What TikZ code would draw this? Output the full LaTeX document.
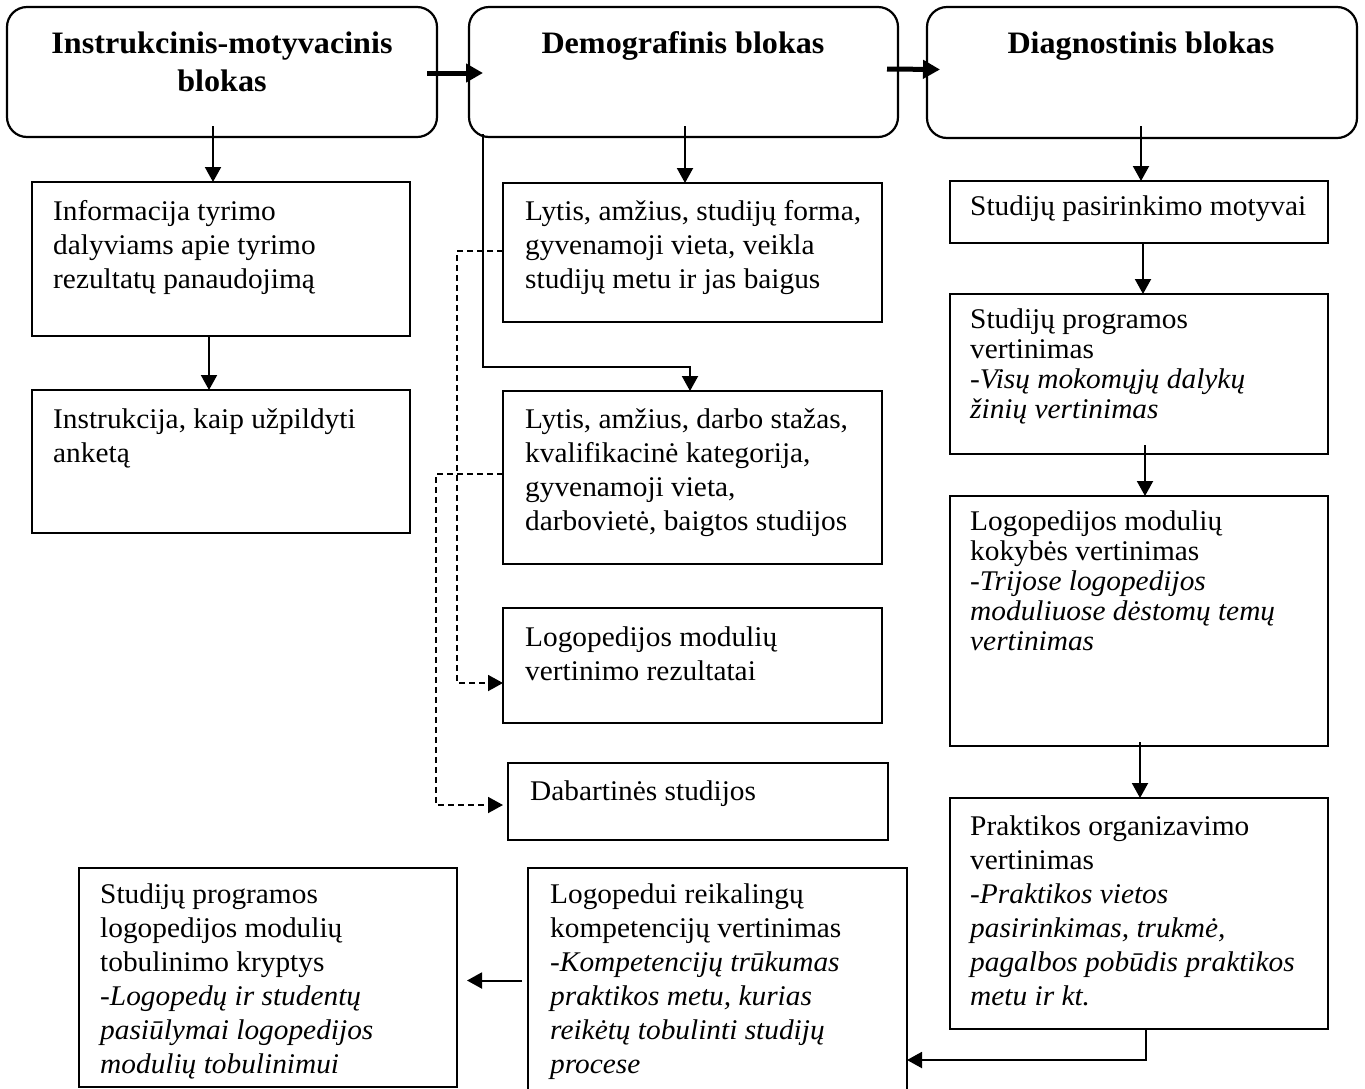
\documentclass[tikz,border=0pt]{standalone}
\usepackage{fontspec}
\setmainfont[FakeStretch=1.03]{Liberation Serif}
\usetikzlibrary{arrows.meta,calc}
\begin{document}
\begin{tikzpicture}[x=1pt,y=-1pt,
  box/.style={draw, line width=2.2pt, anchor=north west, inner sep=0pt, outer sep=0pt},
  rbox/.style={box, rounded corners=20pt},
  body/.style={anchor=north west, inner sep=0pt, align=left, font=\fontsize{28.5}{34}\selectfont},
  bodyt/.style={body, font=\fontsize{28.5}{30}\selectfont},
  title/.style={anchor=north, inner sep=0pt, align=center, font=\fontsize{31.2}{38}\selectfont\bfseries},
  arr/.style={line width=2pt, -{Triangle[length=15pt,width=16pt]}},
  thickarr/.style={line width=5pt, -{Triangle[length=17pt,width=18pt]}},
  dasharr/.style={line width=1.8pt, dash pattern=on 6pt off 4pt, -{Triangle[length=15pt,width=16pt]}}
]
\useasboundingbox (0,0) rectangle (1365,1088);
\clip (0,0) rectangle (1365,1088);

% top rounded boxes
\node[rbox, minimum width=430pt, minimum height=130pt] (b1) at (7,7) {};
\node[rbox, minimum width=429pt, minimum height=130pt] (b2) at (469,7) {};
\node[rbox, minimum width=430pt, minimum height=131pt] (b3) at (927,7) {};
\node[title] (t1) at (222,26.4) {\strut Instrukcinis-motyvacinis\\blokas};
\node[title] (t2) at (683,26.4) {\strut Demografinis blokas};
\node[title] (t3) at (1141,26.4) {\strut Diagnostinis blokas};

% left column
\node[box, minimum width=378pt, minimum height=154pt] (info) at (32,182) {};
\node[box, minimum width=378pt, minimum height=143pt] (instr) at (32,390) {};
\node[body] (tinfo) at (53,196.2) {\strut Informacija tyrimo\\dalyviams apie tyrimo\\rezultatų panaudojimą};
\node[body] (tinstr) at (53,404.2) {\strut Instrukcija, kaip užpildyti\\anketą};

% middle column
\node[box, minimum width=379pt, minimum height=139pt] (d1) at (503,183) {};
\node[box, minimum width=379pt, minimum height=173pt] (d2) at (503,391) {};
\node[box, minimum width=379pt, minimum height=115pt] (d3) at (503,608) {};
\node[box, minimum width=380pt, minimum height=77pt] (d4) at (508,763) {};
\node[body] (td1) at (525,196.2) {\strut Lytis, amžius, studijų forma,\\gyvenamoji vieta, veikla\\studijų metu ir jas baigus};
\node[body] (td2) at (525,404.2) {\strut Lytis, amžius, darbo stažas,\\kvalifikacinė kategorija,\\gyvenamoji vieta,\\darbovietė, baigtos studijos};
\node[body] (td3) at (525,622.2) {\strut Logopedijos modulių\\vertinimo rezultatai};
\node[body] (td4) at (530,776.2) {\strut Dabartinės studijos};

% right column
\node[box, minimum width=378pt, minimum height=62pt] (s1) at (950,181) {};
\node[box, minimum width=378pt, minimum height=160pt] (s2) at (950,294) {};
\node[box, minimum width=378pt, minimum height=250pt] (s3) at (950,496) {};
\node[box, minimum width=378pt, minimum height=231pt] (s4) at (950,798) {};
\node[body] (ts1) at (970,191.2) {\strut Studijų pasirinkimo motyvai};
\node[bodyt] (ts2) at (970,307) {\strut Studijų programos\\vertinimas\\\textit{-Visų mokomųjų dalykų}\\\textit{žinių vertinimas}};
\node[bodyt] (ts3) at (970,509) {\strut Logopedijos modulių\\kokybės vertinimas\\\textit{-Trijose logopedijos}\\\textit{moduliuose dėstomų temų}\\\textit{vertinimas}};
\node[body] (ts4) at (970,811.2) {\strut Praktikos organizavimo\\vertinimas\\\textit{-Praktikos vietos}\\\textit{pasirinkimas, trukmė,}\\\textit{pagalbos pobūdis praktikos}\\\textit{metu ir kt.}};

% bottom boxes
\node[box, minimum width=378pt, minimum height=219pt] (l1) at (79,868) {};
\node[box, minimum width=379pt, minimum height=225pt] (l2) at (528,868) {};
\node[body] (tl1) at (100,879.2) {\strut Studijų programos\\logopedijos modulių\\tobulinimo kryptys\\\textit{-Logopedų ir studentų}\\\textit{pasiūlymai logopedijos}\\\textit{modulių tobulinimui}};
\node[body] (tl2) at (550,879.2) {\strut Logopedui reikalingų\\kompetencijų vertinimas\\\textit{-Kompetencijų trūkumas}\\\textit{praktikos metu, kurias}\\\textit{reikėtų tobulinti studijų}\\\textit{procese}};

% thick arrows between blocks
\draw[thickarr] ($(b1.east)+(-10,1)$) -- ($(b2.west)+(14,1)$);
\draw[thickarr] ($(b2.east)+(-11,-3)$) -- ($(b3.west)+(13,-3)$);

% thin arrows
\coordinate (a1) at (213,126);
\draw[arr] (a1) -- (a1 |- info.north);
\coordinate (a2) at (685,126);
\draw[arr] (a2) -- (a2 |- d1.north);
\coordinate (a3) at (1141,126);
\draw[arr] (a3) -- (a3 |- s1.north);
\coordinate (a7) at (209,336);
\draw[arr] (a7 |- info.south) -- (a7 |- instr.north);
\coordinate (a4) at (1143,245);
\draw[arr] (a4 |- s1.south) -- (a4 |- s2.north);
\coordinate (a5) at (1145,445);
\draw[arr] (a5) -- (a5 |- s3.north);
\coordinate (a6) at (1140,742);
\draw[arr] (a6) -- (a6 |- s4.north);

% elbow from demografinis block to second box
\coordinate (e1) at (483,134);
\coordinate (e2) at (690,367);
\draw[arr] (e1) |- (e2) -- (e2 |- d2.north);

% dashed connectors
\coordinate (k1) at (457,251);
\coordinate (k2) at (503,683);
\draw[dasharr] (d1.west |- k1) -- (k1) |- (k2 -| d3.west);
\coordinate (k3) at (436,474);
\coordinate (k4) at (503,805);
\draw[dasharr] (d2.west |- k3) -- (k3) |- (k4);

% from practice box to competence box
\coordinate (m1) at (1146,1060);
\draw[arr] (s4.south -| m1) -- (m1) -- (m1 -| l2.east);

% from competence box to improvement box
\coordinate (n1) at ($(l2.west)+(-6,0)$);
\coordinate (n2) at ($(l1.east)+(10,0)$);
\draw[arr] (n1) -- (n1 -| n2);
\end{tikzpicture}
\end{document}
